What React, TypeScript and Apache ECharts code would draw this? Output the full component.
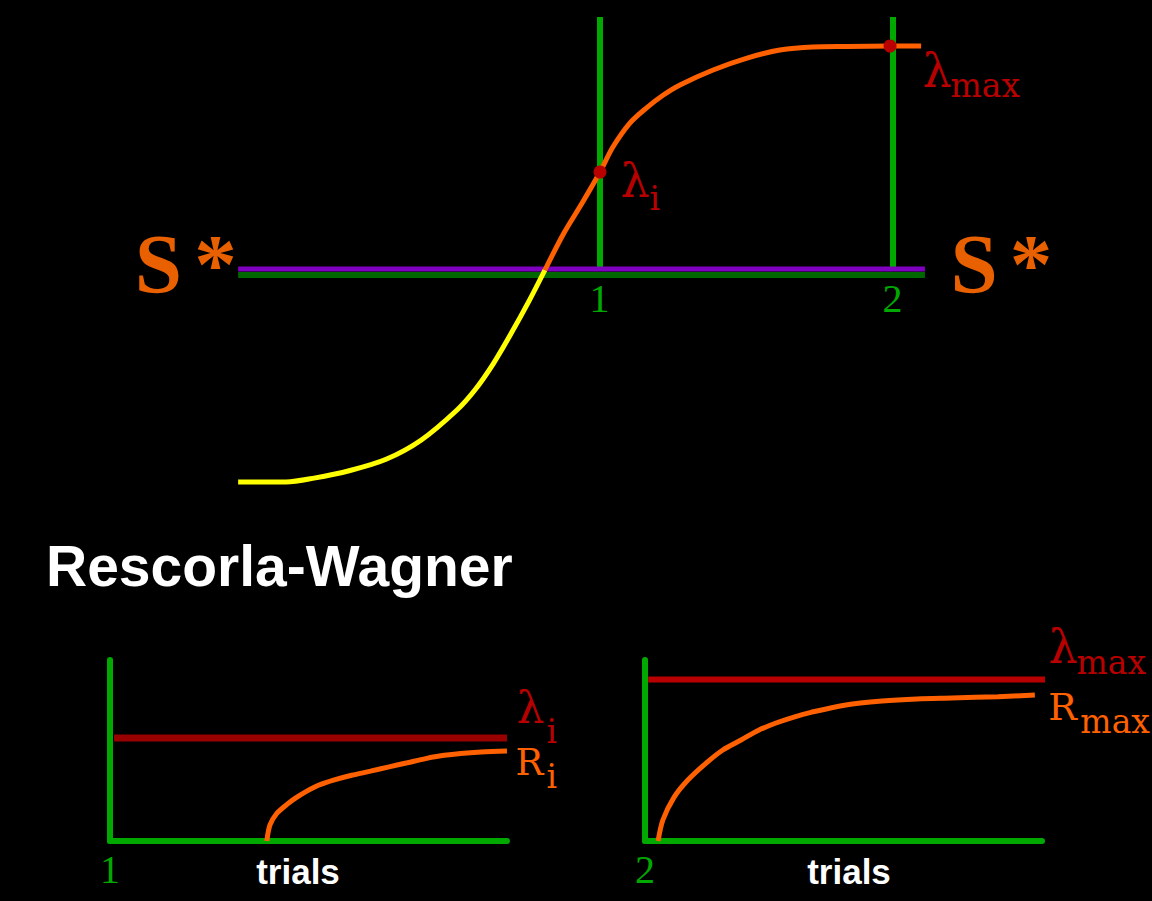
import React, { useEffect, useRef } from "react";
import * as echarts from "echarts";

// ---------- data ----------
// top diagram: x in "stimulus" units (1 and 2 mark the two test stimuli), y relative to S* (0) and lambda max (1)
const sStarLineX = [-0.235, 2.109];
const sStarPurpleY = 0.005;
const sStarGreenY = -0.022;
const markerX = [1, 2];
const markerTop = 1.129;
const markerLabels = ["1", "2"];
const lowerLimb: number[][] = [
  [-0.235, -0.946], [-0.072, -0.946], [0.024, -0.929], [0.147, -0.895], [0.27, -0.845],
  [0.389, -0.76], [0.512, -0.625], [0.573, -0.536], [0.635, -0.42], [0.696, -0.285],
  [0.758, -0.138], [0.812, 0],
];
const upperLimb: number[][] = [
  [0.812, 0], [0.877, 0.165], [0.939, 0.299], [1, 0.4375], [1.044, 0.549], [1.102, 0.656],
  [1.16, 0.725], [1.215, 0.78], [1.273, 0.826], [1.386, 0.893], [1.502, 0.946], [1.614, 0.982],
  [1.727, 0.996], [1.843, 0.998], [1.99, 1], [2.096, 1],
];
const lambdaPoints: number[][] = [[1, 0.4375], [1.99, 1]];

// bottom panels: trials 0..10, associative strength 0..1 (lambda max = 1)
const trialsRange = [0, 10];
const trialsLabelX = 5;
const leftLambda = 0.637;
const leftLambdaX = [0.1, 10];
const leftCurve: number[][] = [
  [3.95, 0], [4.03, 0.1], [4.2, 0.17], [4.45, 0.225], [4.69, 0.268], [4.97, 0.31],
  [5.25, 0.345], [5.63, 0.377], [6.09, 0.407], [6.56, 0.432], [7.03, 0.459], [7.49, 0.484],
  [7.95, 0.51], [8.42, 0.53], [9.35, 0.55], [10, 0.557],
];
const rightLambda = 1;
const rightLambdaX = [0.08, 10.08];
const rightCurve: number[][] = [
  [0.33, 0], [0.45, 0.13], [0.73, 0.27], [1.08, 0.377], [1.54, 0.482], [1.96, 0.563],
  [2.42, 0.625], [2.85, 0.684], [3.3, 0.73], [3.75, 0.767], [4.18, 0.796], [5.06, 0.842],
  [5.97, 0.866], [6.85, 0.879], [7.73, 0.885], [8.89, 0.893], [9.82, 0.903],
];
const panelOriginLabels = ["1", "2"];
const axisName = "trials";
const titleText = "Rescorla-Wagner";

// ---------- styles ----------
const C = {
  green: "#00A800",
  darkGreen: "#006600",
  purple: "#7F00BF",
  yellow: "#FFFF00",
  orange: "#FF6000",
  sOrange: "#E86000",
  red: "#B80000",
  darkRed: "#990000",
  white: "#FFFFFF",
};
const SERIF = "'DejaVu Serif', serif";
const TIMES = "'Liberation Serif', 'Times New Roman', serif";
const SANS = "'Liberation Sans', Arial, sans-serif";

function lbl(value: number[], text: string, dx: number, dy: number, style: any, align = "left") {
  return {
    value,
    label: {
      show: true,
      position: [dx, dy],
      align,
      verticalAlign: "middle",
      formatter: text,
      opacity: 1,
      textBorderWidth: 0,
      textShadowBlur: 0,
      ...style,
    },
  };
}

function labelSeries(gridIdx: number, data: any[]) {
  return {
    type: "scatter",
    xAxisIndex: gridIdx,
    yAxisIndex: gridIdx,
    symbolSize: 1,
    itemStyle: { color: "rgba(0,0,0,0)", opacity: 1 },
    silent: true,
    z: 20,
    data,
  };
}

function seg(gridIdx: number, data: number[][], color: string, width: number, z = 2, smooth: any = false) {
  return {
    type: "line",
    xAxisIndex: gridIdx,
    yAxisIndex: gridIdx,
    data,
    showSymbol: false,
    symbol: "none",
    smooth,
    lineStyle: { color, width, cap: "butt", opacity: 1 },
    silent: true,
    z,
  };
}

export default function App() {
  const ref = useRef<HTMLDivElement>(null);

  useEffect(() => {
    if (!ref.current) return;
    const chart = echarts.init(ref.current, undefined, { renderer: "svg" });

    const lamBig = (color: string, size = 46) => ({ color, fontFamily: SERIF, fontSize: size });
    const sStar = {
      formatter: "{s|S}{a|*}",
      rich: {
        s: { fontFamily: TIMES, fontWeight: "bold", fontSize: 85, color: C.sOrange },
        a: { fontFamily: TIMES, fontWeight: "bold", fontSize: 85, color: C.sOrange, padding: [0, 0, 0, 12] },
      },
    };
    const trialsStyle = { color: C.white, fontFamily: SANS, fontWeight: "bold", fontSize: 35 };

    const bottomX = (idx: number, origin: string) => ({
      gridIndex: idx,
      type: "value",
      min: trialsRange[0],
      max: trialsRange[1],
      interval: 10,
      axisLine: { show: true, onZero: true, lineStyle: { color: C.green, width: 6 } },
      axisTick: { show: false },
      splitLine: { show: false },
      axisLabel: {
        formatter: (v: number) => (v === 0 ? origin : ""),
        color: C.green,
        fontFamily: TIMES,
        fontSize: 40,
        margin: 8,
      },
    });
    const bottomY = (idx: number) => ({
      gridIndex: idx,
      type: "value",
      min: 0,
      max: 1.12,
      axisLine: { show: true, onZero: true, lineStyle: { color: C.green, width: 6 } },
      axisTick: { show: false },
      splitLine: { show: false },
      axisLabel: { show: false },
    });

    const option: any = {
      animation: false,
      backgroundColor: "#000000",
      title: {
        text: titleText,
        left: 46,
        top: 537,
        padding: 0,
        textStyle: { color: C.white, fontFamily: SANS, fontWeight: "bold", fontSize: 57 },
      },
      grid: [
        { left: 233.75, width: 732.5, top: 1.2, height: 492.8, outerBoundsMode: "none", containLabel: false },
        { left: 110, width: 397, top: 660, height: 181, outerBoundsMode: "none", containLabel: false },
        { left: 645, width: 397, top: 660, height: 181, outerBoundsMode: "none", containLabel: false },
      ],
      xAxis: [
        { gridIndex: 0, type: "value", min: -0.25, max: 2.25, show: false },
        bottomX(1, panelOriginLabels[0]),
        bottomX(2, panelOriginLabels[1]),
      ],
      yAxis: [
        { gridIndex: 0, type: "value", min: -1, max: 1.2, show: false },
        bottomY(1),
        bottomY(2),
      ],
      series: [
        // top diagram
        seg(0, [[markerX[0], 0], [markerX[0], markerTop]], C.green, 6, 2),
        seg(0, [[markerX[1], 0], [markerX[1], markerTop]], C.green, 6, 2),
        seg(0, [[sStarLineX[0], sStarGreenY], [sStarLineX[1], sStarGreenY]], C.darkGreen, 6, 3),
        seg(0, [[sStarLineX[0], sStarPurpleY], [sStarLineX[1], sStarPurpleY]], C.purple, 5, 4),
        seg(0, lowerLimb, C.yellow, 5, 5, 0.3),
        seg(0, upperLimb, C.orange, 5, 5, 0.3),
        {
          type: "scatter",
          xAxisIndex: 0,
          yAxisIndex: 0,
          symbolSize: 13,
          itemStyle: { color: C.red, opacity: 1 },
          silent: true,
          z: 8,
          data: lambdaPoints,
        },
        labelSeries(0, [
          lbl([sStarLineX[0], 0], "", -1, -6, sStar, "right"),
          lbl([sStarLineX[1], 0], "", 26, -6, sStar, "left"),
          lbl([markerX[0], 0], markerLabels[0], 0, 29, { color: C.green, fontFamily: TIMES, fontSize: 40 }, "center"),
          lbl([markerX[1], 0], markerLabels[1], 0, 29, { color: C.green, fontFamily: TIMES, fontSize: 40 }, "center"),
          lbl(lambdaPoints[0], "λ", 21, 9, lamBig(C.red)),
          lbl(lambdaPoints[0], "i", 50, 27, lamBig(C.red, 33)),
          lbl(lambdaPoints[1], "λ", 33, 25, lamBig(C.red)),
          lbl(lambdaPoints[1], "max", 61, 40, lamBig(C.red, 33)),
        ]),
        // bottom left
        seg(1, [[leftLambdaX[0], leftLambda], [leftLambdaX[1], leftLambda]], C.darkRed, 7, 3),
        seg(1, leftCurve, C.orange, 5, 5, 0.3),
        labelSeries(1, [
          lbl([leftLambdaX[1], leftLambda], "λ", 10, -30, lamBig(C.red, 44)),
          lbl([leftLambdaX[1], leftLambda], "i", 40, -6, lamBig(C.red, 33)),
          lbl(leftCurve[leftCurve.length - 1], "R", 9, 12, lamBig(C.orange, 37)),
          lbl(leftCurve[leftCurve.length - 1], "i", 40, 26, lamBig(C.orange, 33)),
          lbl([trialsLabelX, 0], axisName, -10, 31, trialsStyle, "center"),
        ]),
        // bottom right
        seg(2, [[rightLambdaX[0], rightLambda], [rightLambdaX[1], rightLambda]], C.red, 6, 3),
        seg(2, rightCurve, C.orange, 5, 5, 0.3),
        labelSeries(2, [
          lbl([trialsRange[1], rightLambda], "λ", 7, -32, lamBig(C.red, 46)),
          lbl([trialsRange[1], rightLambda], "max", 35, -16, lamBig(C.red, 33)),
          lbl(rightCurve[rightCurve.length - 1], "R", 14, 12, lamBig(C.orange, 38)),
          lbl(rightCurve[rightCurve.length - 1], "max", 46, 27, lamBig(C.orange, 33)),
          lbl([trialsLabelX, 0], axisName, 6, 31, trialsStyle, "center"),
        ]),
      ],
    };

    chart.setOption(option);
    return () => chart.dispose();
  }, []);

  return (
    <div
      ref={ref}
      style={{ position: "absolute", left: 0, top: 0, width: 1152, height: 901, background: "#000" }}
    />
  );
}
